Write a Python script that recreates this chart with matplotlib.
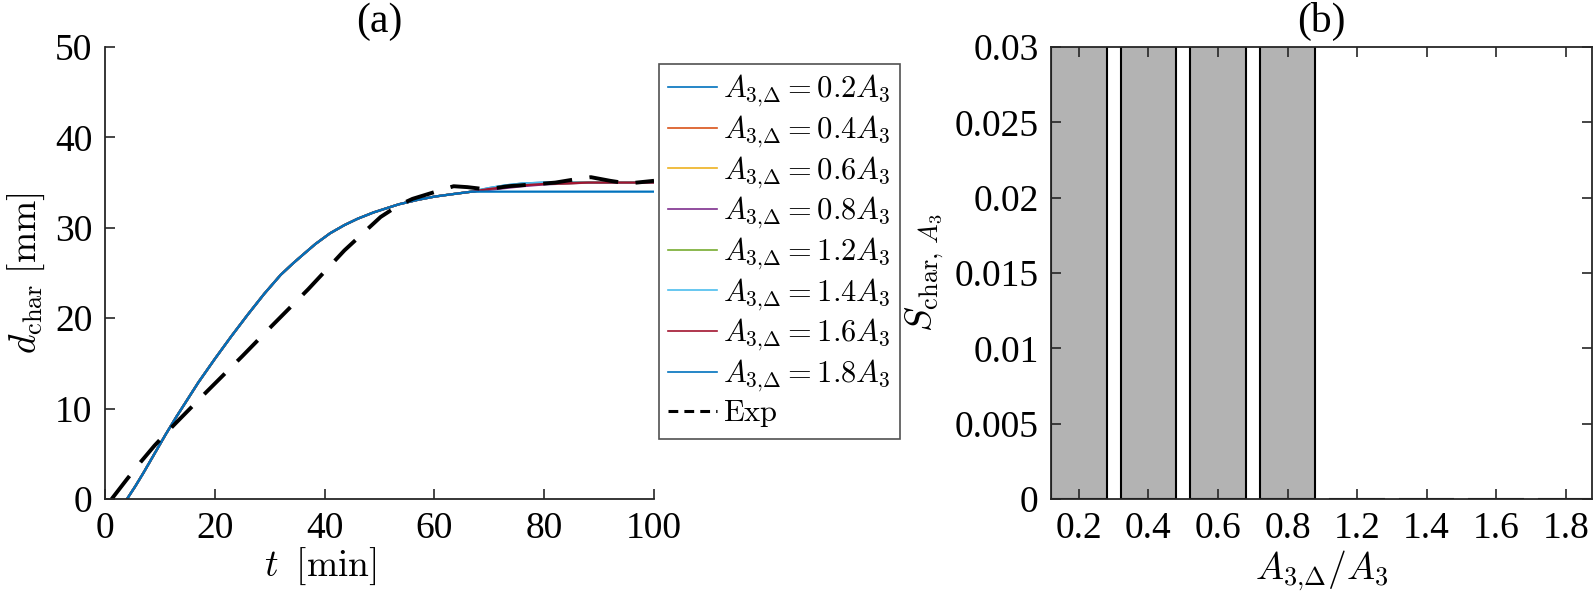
import numpy as np
from matplotlib import pyplot as plt
from matplotlib.ticker import FixedLocator, FixedFormatter

plt.rcParams['font.family'] = ['Liberation Serif', 'DejaVu Serif']
plt.rcParams['mathtext.fontset'] = 'cm'

# (a) simulated characteristic size over time
t_sim = [4.0, 5.5, 7.0, 9.0, 11.0, 13.0, 15.0, 17.0, 20.0, 23.0, 26.0,
         29.0, 32.0, 34.3, 36.0, 38.3, 41.0, 43.6, 46.0, 48.9, 53.5, 57.0,
         60.0, 63.0, 66.8, 70.0, 73.0, 76.0, 80.0, 88.0, 100.0]
d_base = [0.0, 1.4, 2.9, 5.0, 7.1, 9.1, 11.0, 12.9, 15.5, 18.0, 20.4,
          22.7, 24.8, 26.1, 27.0, 28.2, 29.4, 30.3, 31.0, 31.7, 32.6, 33.1,
          33.45, 33.7, 34.0]
d_02 = d_base + [34.4, 34.7, 34.9, 35.0, 35.0, 35.0]
d_04 = d_base + [34.3, 34.6, 34.8, 34.9, 35.0, 35.0]
d_06 = d_base + [34.3, 34.5, 34.7, 34.85, 35.0, 35.0]
d_08 = d_base + [34.2, 34.4, 34.6, 34.8, 35.0, 35.0]
d_12 = d_base + [34.3, 34.6, 34.8, 34.9, 35.0, 35.0]
d_14 = d_base + [34.4, 34.7, 34.9, 35.0, 35.0, 35.0]
d_16 = d_base + [34.3, 34.5, 34.7, 34.85, 35.0, 35.0]
d_18 = d_base + [34.0, 34.0, 34.0, 34.0, 34.0, 34.0]
d_sim = [d_02, d_04, d_06, d_08, d_12, d_14, d_16, d_18]

# experiment
t_exp = [1.2, 4.0, 6.5, 9.0, 12.4, 18.4, 25.0, 30.3, 37.0, 43.6, 50.2,
         53.5, 56.0, 60.8, 63.5, 66.0, 69.5, 73.4, 78.0, 82.0, 86.0, 88.5,
         92.0, 95.2, 100.0]
d_exp = [0.0, 2.2, 4.1, 5.9, 8.1, 11.8, 15.8, 19.1, 23.2, 27.5, 31.2,
         32.5, 33.2, 34.1, 34.6, 34.5, 34.25, 34.6, 34.8, 35.0, 35.4, 35.6,
         35.2, 34.9, 35.2]

# (b) sensitivity per A3 ratio
ratio = ['0.2', '0.4', '0.6', '0.8', '1.2', '1.4', '1.6', '1.8']
s_char = [0.05, 0.05, 0.05, 0.05, 0.0, 0.0, 0.0, 0.0]

colors = ['#0072BD', '#D95319', '#EDB120', '#7E2F8E', '#77AC30',
          '#4DBEEE', '#A2142F', '#0072BD']
axcol = '#262626'
fs = 27

fig = plt.figure(figsize=(15.94, 6.12), dpi=100)
ax1 = fig.add_axes([0.0659, 0.1846, 0.3444, 0.7386])
ax2 = fig.add_axes([0.6594, 0.1846, 0.3394, 0.7386])

for d, lab, c in zip(d_sim, ratio, colors):
    ax1.plot(t_sim, d, color=c, lw=1.6,
             label=r'$A_{3{,}\Delta}=%sA_3$' % lab)
ax1.plot(t_exp, d_exp, color='black', lw=2.8, dashes=(7.5, 4.5),
         label=r'$\rm Exp$')

ax1.set_xlim(0, 100)
ax1.set_ylim(0, 50)
ax1.set_xticks([0, 20, 40, 60, 80, 100])
ax1.set_yticks([0, 10, 20, 30, 40, 50])
ax1.spines['top'].set_visible(False)
ax1.spines['right'].set_visible(False)
ax1.set_xlabel(r'$t\;\;[\rm min]$', fontsize=fs, labelpad=0)
ax1.set_ylabel(r'$d_{\rm char}\;[\rm mm]$', fontsize=fs, labelpad=6)
ax1.xaxis.set_label_coords(0.393, -0.103, transform=ax1.transAxes)
ax1.xaxis.label.set_va('top')
ax1.set_title('(a)', fontsize=30, pad=11)

pos = np.arange(1, len(ratio) + 1)
ax2.bar(pos, s_char, width=0.8, color='#b3b3b3', edgecolor='black',
        linewidth=1.5)
ax2.set_xlim(0.6, 8.38)
ax2.set_ylim(0, 0.03)
ax2.set_xticks(pos)
ax2.set_xticklabels(ratio)
yt = [0, 0.005, 0.01, 0.015, 0.02, 0.025, 0.03]
ax2.yaxis.set_major_locator(FixedLocator(yt))
ax2.yaxis.set_major_formatter(FixedFormatter(['0', '0.005', '0.01', '0.015',
                                              '0.02', '0.025', '0.03']))
ax2.tick_params(top=True, right=True)
ax2.set_xlabel(r'$A_{3{,}\Delta}/A_3$', fontsize=fs, labelpad=2)
ax2.set_ylabel(r'$S_{\mathrm{char},\,A_3}$', fontsize=fs, labelpad=6)
ax2.set_title('(b)', fontsize=30, pad=11)

for ax in (ax1, ax2):
    ax.tick_params(direction='in', length=7, width=1.2, labelsize=fs,
                   colors=axcol, labelcolor='black', pad=9)
    for s in ax.spines.values():
        s.set_color(axcol)
        s.set_linewidth(1.3)

leg = fig.legend(*ax1.get_legend_handles_labels(), loc='upper left',
                 bbox_to_anchor=(659 / 1594, 1 - 64 / 612), fontsize=22,
                 frameon=True, fancybox=False, edgecolor=axcol,
                 handlelength=1.6, handletextpad=0.2, labelspacing=0.15,
                 borderpad=0.3, borderaxespad=0)
leg.get_frame().set_linewidth(1.2)
for h in leg.get_lines()[:-1]:
    h.set_linewidth(1.2)
leg.get_lines()[-1].set_linewidth(2.2)
leg.get_lines()[-1].set_dashes((3.2, 2.0))

fig.savefig('out.png', dpi=100)
